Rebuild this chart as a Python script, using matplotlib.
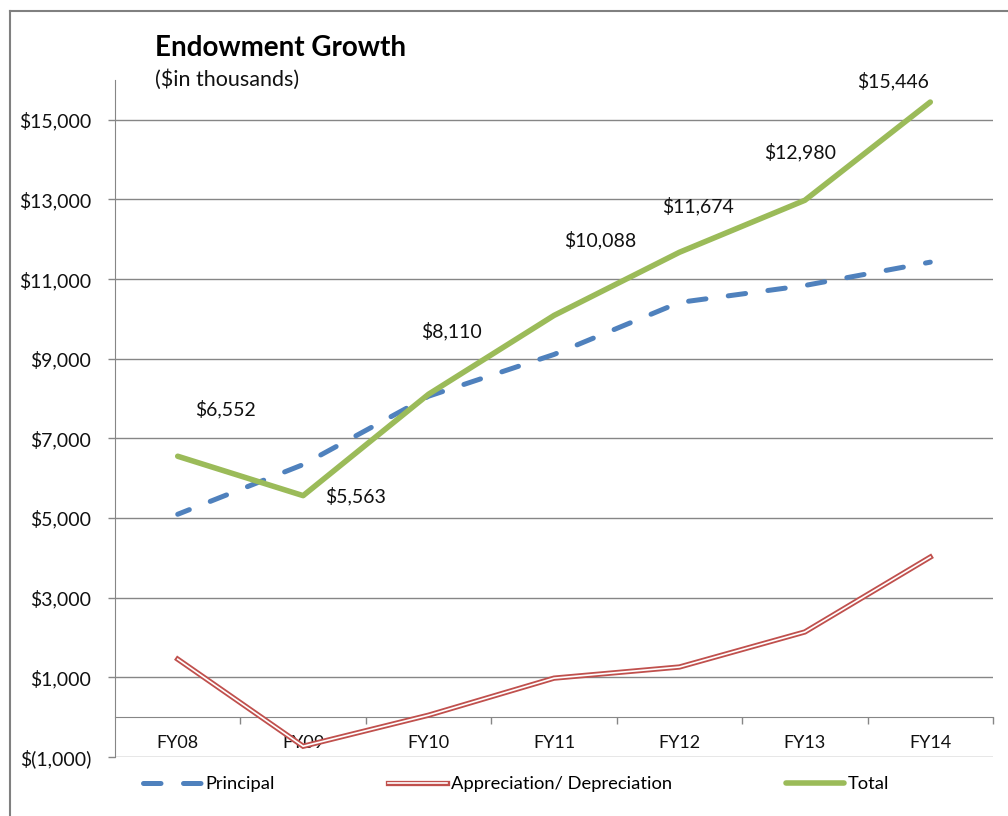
import matplotlib
matplotlib.use("Agg")
import matplotlib.pyplot as plt
from matplotlib.lines import Line2D
from matplotlib.ticker import FuncFormatter, FixedLocator

plt.rcParams['font.family'] = ['Lato', 'DejaVu Sans']

# data ($ in thousands)
years = ['FY08', 'FY09', 'FY10', 'FY11', 'FY12', 'FY13', 'FY14']
principal = [5095, 6343, 8060, 9108, 10414, 10840, 11426]
appreciation = [1457, -730, 50, 980, 1260, 2140, 4020]
total = [6552, 5563, 8110, 10088, 11674, 12980, 15446]

# label offsets in pixels for the total series
label_offsets = [(48, 47), (52, 0), (23, 63), (46, 75), (19, 46), (-5, 48), (-37, 21)]

BLUE = '#4F81BD'
RED = '#C0504D'
GREEN = '#9BBB59'
GRID = '#868686'
TXT = '#111111'


def money(v, pos=None):
    if v < 0:
        return f'$({abs(v):,.0f})'
    return f'${v:,.0f}'


fig = plt.figure(figsize=(10.08, 8.16), dpi=100)
ax = fig.add_axes([115 / 1008, 1 - 757 / 816, 878 / 1008, 677 / 816])

x = list(range(len(years)))

ax.plot(x, principal, color=BLUE, lw=3.6, linestyle=(1, (3.5, 4.5)),
        dash_capstyle='round', zorder=3)
ax.plot(x, appreciation, color=RED, lw=3.8, solid_joinstyle='miter', zorder=3)
ax.plot(x, appreciation, color='white', lw=1.2, solid_joinstyle='miter', zorder=4)
ax.plot(x, total, color=GREEN, lw=4.0, solid_capstyle='round', zorder=5)

for xi, v, (dx, dy) in zip(x, total, label_offsets):
    ax.annotate(money(v), (xi, v), xytext=(dx, dy), textcoords='offset pixels',
                ha='center', va='center', fontsize=14, color=TXT)

ax.set_xlim(-0.5, len(years) - 0.5)
ax.set_ylim(-1000, 16000)
ax.set_yticks(range(-1000, 16000, 2000))
ax.yaxis.set_major_formatter(FuncFormatter(money))
ax.grid(axis='y', color=GRID, lw=1.0)
ax.set_axisbelow(True)

ax.set_xticks(x)
ax.set_xticklabels(years)
ax.xaxis.set_minor_locator(FixedLocator([i + 0.5 for i in x]))
ax.tick_params(axis='x', which='major', length=0, pad=13, labelsize=13, colors=TXT)
ax.tick_params(axis='x', which='minor', length=5, width=1, color=GRID, direction='out')
ax.tick_params(axis='y', length=5, width=1, color=GRID, pad=12, labelsize=14,
               labelcolor=TXT)

for s in ['top', 'right']:
    ax.spines[s].set_visible(False)
ax.spines['left'].set_color(GRID)
ax.spines['bottom'].set_color(GRID)
ax.spines['bottom'].set_position(('data', 0))

# titles
fig.text(155 / 1008, 1 - 48 / 816, 'Endowment Growth', fontsize=20, fontweight='bold',
         ha='left', va='center', color='black')
fig.text(155 / 1008, 1 - 80 / 816, '($in thousands)', fontsize=15.5,
         ha='left', va='center', color=TXT)

# legend
h_p = Line2D([], [], color=BLUE, lw=3.6, linestyle=(0, (3.5, 4.5)), dash_capstyle='round')
h_a = (Line2D([], [], color=RED, lw=3.8), Line2D([], [], color='white', lw=1.2))
h_t = Line2D([], [], color=GREEN, lw=4.0, solid_capstyle='round')
fig.legend([h_p, h_a, h_t], ['Principal', 'Appreciation/ Depreciation', 'Total'],
           loc='center left', bbox_to_anchor=(143 / 1008, 1 - 784 / 816), ncol=3,
           frameon=False, fontsize=13.2, handlelength=3.2, handletextpad=0.2,
           columnspacing=6.2, borderpad=0, borderaxespad=0)

# outer chart frame (cropped)
fig.add_artist(Line2D([10 / 1008, 10 / 1008], [0, 1 - 11 / 816], transform=fig.transFigure,
                      color='#808080', lw=1.5))
fig.add_artist(Line2D([10 / 1008, 1], [1 - 11 / 816, 1 - 11 / 816], transform=fig.transFigure,
                      color='#808080', lw=1.5))

fig.savefig('out.png', dpi=100)
